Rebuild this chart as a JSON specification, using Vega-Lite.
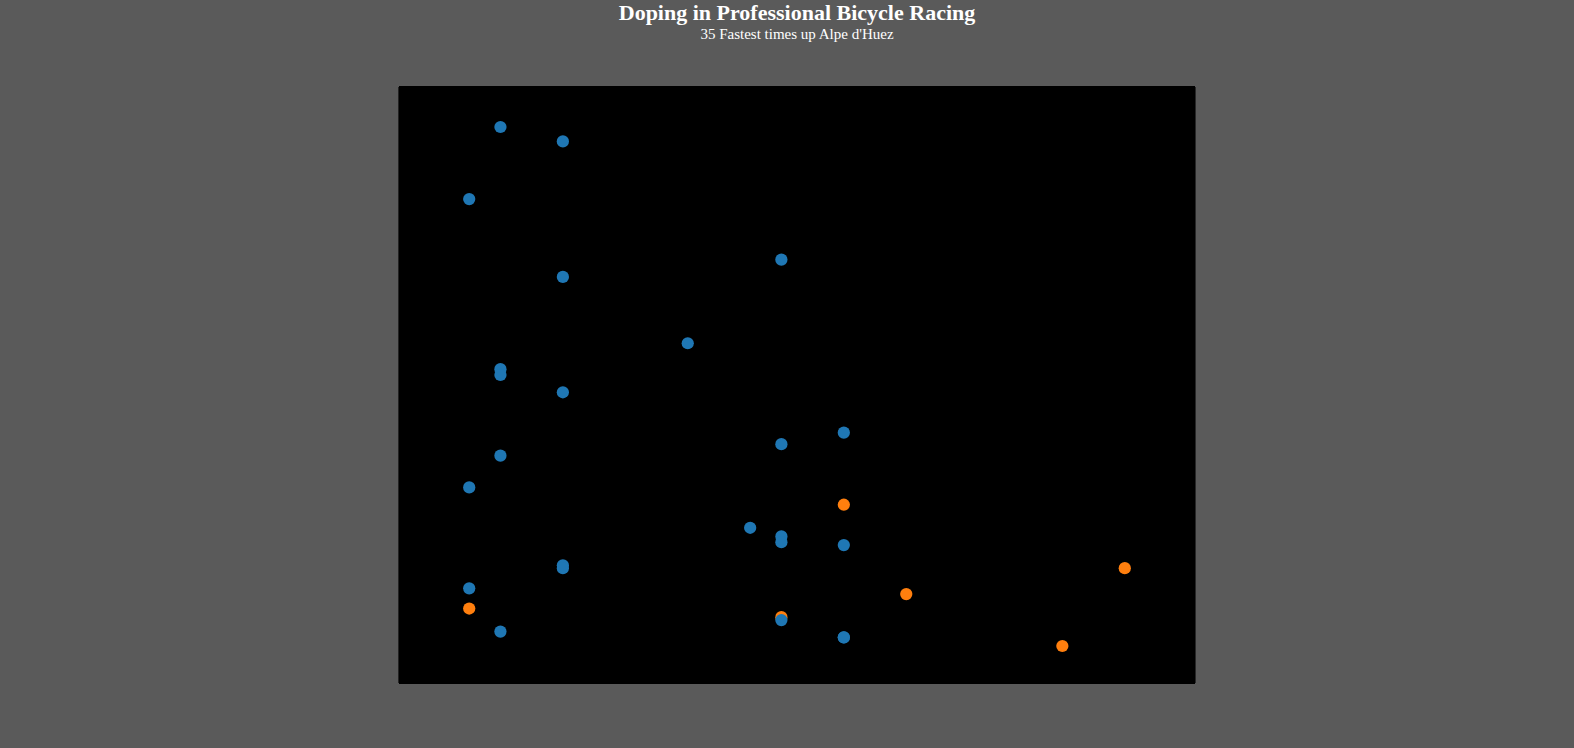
{
"$schema":"https://vega.github.io/schema/vega-lite/v6.json",
"width":718,"height":519,
"autosize":{"type":"none"},
"padding":{"left":438,"top":127,"right":418,"bottom":102},
"background":"#5a5a5a",
"title":{"text":"Doping in Professional Bicycle Racing","subtitle":"35 Fastest times up Alpe d'Huez","font":"Liberation Serif","fontSize":22,"fontWeight":"bold","color":"white","subtitleFont":"Liberation Serif","subtitleFontSize":15,"subtitleColor":"white","subtitlePadding":2,"anchor":"middle","offset":44},
"config":{"view":{"stroke":null}},
"data":{"values":[
{"Year":1995,"Seconds":2210,"Doping":"yes"},
{"Year":1997,"Seconds":2215,"Doping":"yes"},
{"Year":1994,"Seconds":2235,"Doping":"yes"},
{"Year":2004,"Seconds":2256,"Doping":"yes"},
{"Year":1997,"Seconds":2262,"Doping":"yes"},
{"Year":2001,"Seconds":2285,"Doping":"yes"},
{"Year":1995,"Seconds":2294,"Doping":"yes"},
{"Year":1995,"Seconds":2296,"Doping":"yes"},
{"Year":1997,"Seconds":2302,"Doping":"yes"},
{"Year":2006,"Seconds":2316,"Doping":"yes"},
{"Year":2004,"Seconds":2320,"Doping":"yes"},
{"Year":1995,"Seconds":2324,"Doping":"yes"},
{"Year":1994,"Seconds":2335,"Doping":"yes"},
{"Year":2006,"Seconds":2341,"Doping":"no"},
{"Year":2003,"Seconds":2349,"Doping":"yes"},
{"Year":2004,"Seconds":2352,"Doping":"yes"},
{"Year":2004,"Seconds":2354,"Doping":"yes"},
{"Year":2006,"Seconds":2355,"Doping":"yes"},
{"Year":1997,"Seconds":2362,"Doping":"yes"},
{"Year":1997,"Seconds":2363,"Doping":"yes"},
{"Year":2015,"Seconds":2363,"Doping":"no"},
{"Year":1994,"Seconds":2370,"Doping":"yes"},
{"Year":2008,"Seconds":2372,"Doping":"no"},
{"Year":1994,"Seconds":2377,"Doping":"no"},
{"Year":2004,"Seconds":2380,"Doping":"no"},
{"Year":2004,"Seconds":2381,"Doping":"yes"},
{"Year":1995,"Seconds":2385,"Doping":"yes"},
{"Year":2006,"Seconds":2387,"Doping":"yes"},
{"Year":2006,"Seconds":2387,"Doping":"yes"},
{"Year":2013,"Seconds":2390,"Doping":"no"}
]},
"layer":[
{"mark":{"type":"rect","color":"black","clip":false},
 "encoding":{"x":{"datum":1991.75,"type":"quantitative"},"x2":{"datum":2017.25},"y":{"datum":2196,"type":"quantitative"},"y2":{"datum":2403}}},
{"mark":{"type":"circle","size":150,"opacity":1},
 "encoding":{
  "x":{"field":"Year","type":"quantitative","scale":{"domain":[1993,2016],"nice":false,"zero":false},
   "axis":{"title":null,"values":[1994,1996,1998,2000,2002,2004,2006,2008,2010,2012,2014,2016],"format":"d","grid":false,"domainColor":"white","tickColor":"white","labelColor":"white","labelFontSize":10,"labelFont":"Liberation Sans","tickSize":6}},
  "y":{"field":"Seconds","type":"quantitative","scale":{"domain":[2210,2390],"nice":false,"zero":false,"reverse":true},
   "axis":{"title":null,"values":[2220,2235,2250,2265,2280,2295,2310,2325,2340,2355,2370,2385],"labelExpr":"floor(datum.value/60)+':'+(datum.value%60<10?'0':'')+(datum.value%60)","grid":false,"domainColor":"white","tickColor":"white","labelColor":"white","labelFontSize":10,"labelFont":"Liberation Sans","tickSize":6}},
  "color":{"field":"Doping","type":"nominal","scale":{"domain":["yes","no"],"range":["#1f77b4","#ff7f0e"]},"legend":null}
 }}
]
}
